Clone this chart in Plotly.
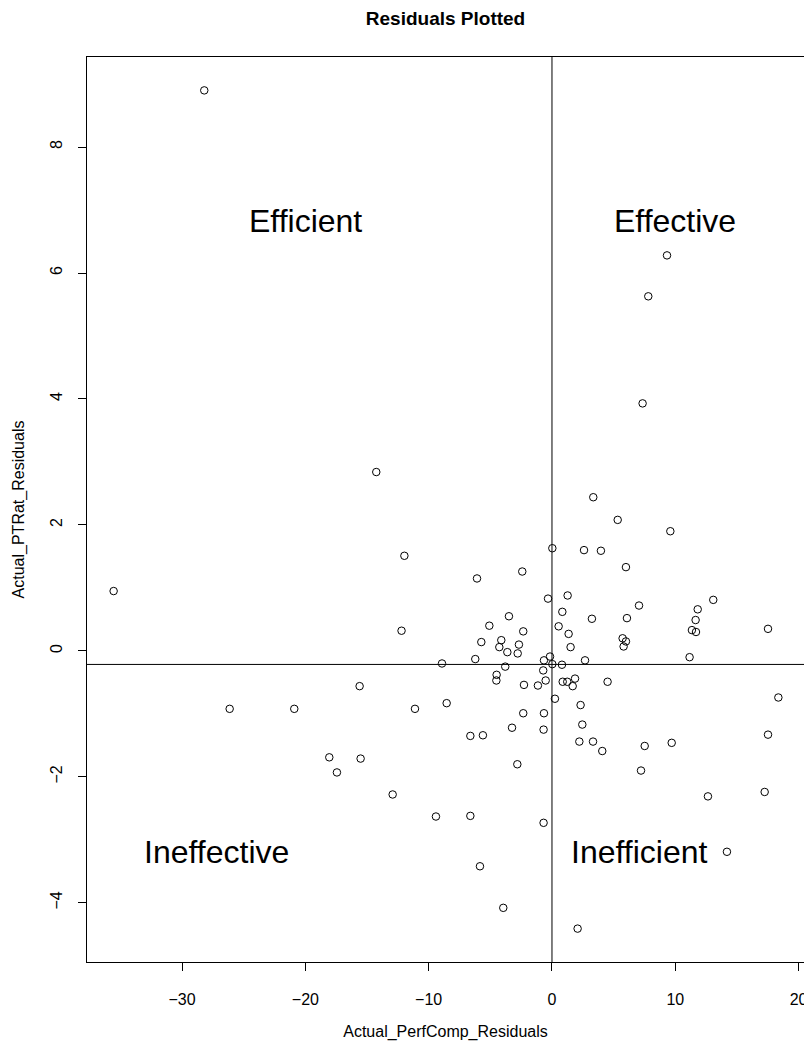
import plotly.graph_objects as go

# Residuals of performance composite (x) and pupil-teacher ratio (y)
perfcomp_resid = [
    -28.2, -14.25, 9.33, 7.81, 7.35, 3.35, -11.97, -6.08, -2.41, 0.03,
    -0.32, 5.33, 9.6, 2.6, 3.97, 6.0, 1.27, 13.08, -12.2, -3.49,
    -5.08, -2.33, 0.54, 0.84, -5.73, -4.11, -4.27, -3.62, -2.68, -2.78,
    -6.22, -8.92, -3.79, -0.16, -0.65, 0.03, -0.71, -4.49, -4.51, -0.51,
    -2.27, -1.14, 0.24, -11.11, -8.54, -2.33, -0.65, 0.81, 7.06, 3.24,
    6.08, 11.82, 11.65, 11.35, 11.68, 1.35, 1.51, 5.73, 6.0, 5.81,
    11.16, 2.68, 0.87, 1.24, 1.87, 1.68, 4.51, 2.32, 17.52, 18.36,
    17.52, 12.65, 17.25, 14.19, -35.55, -15.6, -26.14, -20.9, -18.06, -15.52,
    -17.44, -12.92, -6.62, -5.6, -3.24, -0.68, 2.46, 2.22, 3.33, 4.08,
    7.52, 9.71, -2.81, 7.22, -9.41, -6.62, -0.68, -5.84, -3.95, 2.08,
]
ptrat_resid = [
    8.90, 2.84, 6.28, 5.63, 3.93, 2.44, 1.51, 1.15, 1.26, 1.63,
    0.83, 2.08, 1.90, 1.60, 1.59, 1.33, 0.88, 0.81, 0.32, 0.55,
    0.40, 0.31, 0.39, 0.62, 0.14, 0.17, 0.06, -0.02, 0.10, -0.04,
    -0.13, -0.20, -0.25, -0.09, -0.15, -0.21, -0.31, -0.38, -0.47, -0.47,
    -0.54, -0.55, -0.76, -0.92, -0.83, -0.99, -0.99, -0.22, 0.72, 0.51,
    0.52, 0.66, 0.49, 0.33, 0.30, 0.27, 0.06, 0.20, 0.15, 0.07,
    -0.10, -0.15, -0.49, -0.49, -0.44, -0.56, -0.49, -0.86, 0.35, -0.74,
    -1.33, -2.31, -2.24, -3.19, 0.95, -0.56, -0.92, -0.92, -1.69, -1.71,
    -1.93, -2.28, -1.35, -1.34, -1.22, -1.25, -1.17, -1.44, -1.44, -1.59,
    -1.51, -1.46, -1.80, -1.90, -2.63, -2.62, -2.73, -3.42, -4.08, -4.41,
]

# Reference lines splitting the quadrants
x_split = 0.0
y_split = -0.215

# Quadrant names and where they sit
quadrant_names = ["Efficient", "Effective", "Ineffective", "Inefficient"]
quadrant_x = [-20, 10, -27.2, 7.1]
quadrant_y = [6.83, 6.83, -3.19, -3.19]

x_ticks = [-30, -20, -10, 0, 10, 20]
y_ticks = [-4, -2, 0, 2, 4, 6, 8]

FONT = "Liberation Sans, Arial, Helvetica, sans-serif"

fig = go.Figure()
fig.add_trace(go.Scatter(
    x=perfcomp_resid, y=ptrat_resid, mode="markers",
    marker=dict(symbol="circle-open", size=7.5, color="black",
                line=dict(width=1, color="black")),
    showlegend=False, hoverinfo="x+y",
))

fig.add_vline(x=x_split, line=dict(color="black", width=1))
fig.add_hline(y=y_split, line=dict(color="black", width=1))

for name, qx, qy in zip(quadrant_names, quadrant_x, quadrant_y):
    fig.add_annotation(x=qx, y=qy, xref="x", yref="y", text=name,
                       showarrow=False, xanchor="center", yanchor="middle",
                       font=dict(family=FONT, size=32, color="black"))

fig.update_layout(
    width=804, height=1045,
    margin=dict(l=87, r=0, t=57, b=83, autoexpand=False),
    paper_bgcolor="white", plot_bgcolor="white",
    font=dict(family=FONT, size=16, color="black"),
    title=dict(text="<b>Residuals Plotted</b>", x=0.5, xref="paper",
               y=1 - 18 / 1045, yref="container", yanchor="middle",
               font=dict(family=FONT, size=19, color="black")),
)
fig.update_xaxes(
    range=[-37.71, 20.44], tickvals=x_ticks, showgrid=False, zeroline=False,
    showline=True, mirror=True, linecolor="black", linewidth=1,
    ticks="outside", ticklen=8, tickcolor="black", tickwidth=1,
    ticklabelstandoff=15, ticklabeloverflow="allow", automargin=False,
    title=dict(text="Actual_PerfComp_Residuals", standoff=18,
               font=dict(family=FONT, size=16)),
)
fig.update_yaxes(
    range=[-4.94, 9.43], tickvals=y_ticks, showgrid=False, zeroline=False,
    showline=True, mirror=True, linecolor="black", linewidth=1,
    ticks="outside", ticklen=8, tickcolor="black", tickwidth=1,
    tickangle=-90, ticklabelstandoff=10, ticklabeloverflow="allow",
    automargin=False,
    title=dict(text="Actual_PTRat_Residuals", standoff=18,
               font=dict(family=FONT, size=16)),
)

fig.write_html("out.html")
